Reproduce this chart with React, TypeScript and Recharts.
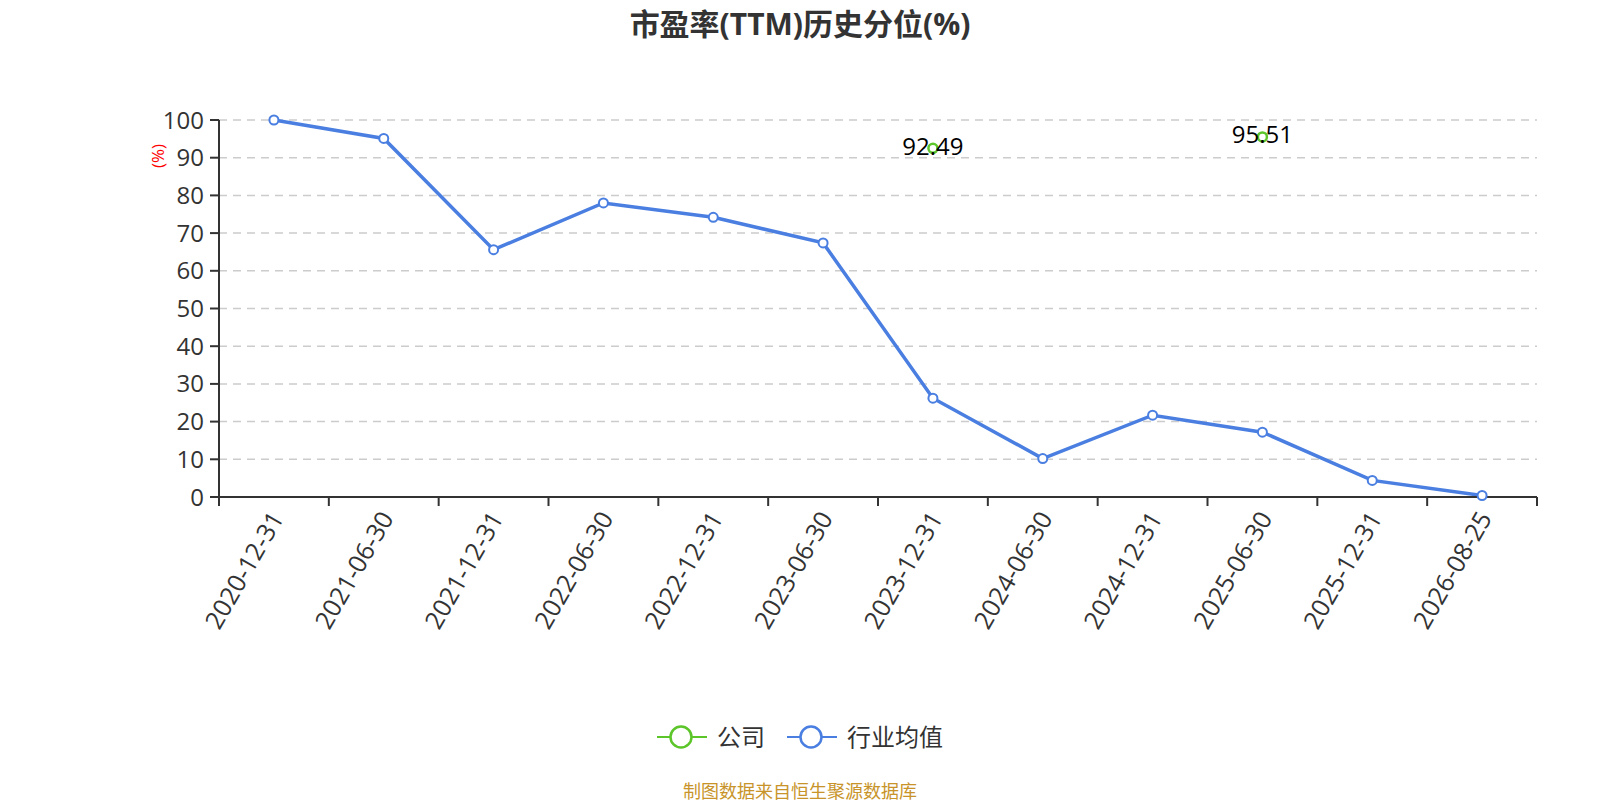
import React from 'react';
import { LineChart, Line, XAxis, YAxis, CartesianGrid, LabelList } from 'recharts';

const categories = [
  '2020-12-31', '2021-06-30', '2021-12-31', '2022-06-30', '2022-12-31', '2023-06-30',
  '2023-12-31', '2024-06-30', '2024-12-31', '2025-06-30', '2025-12-31', '2026-08-25',
];
const industryValues = [100, 95.1, 65.6, 78.0, 74.2, 67.4, 26.2, 10.2, 21.7, 17.2, 4.4, 0.4];
const companyValues: (number | null)[] = [null, null, null, null, null, null, 92.49, null, null, 95.51, null, null];
const yTicks = [0, 10, 20, 30, 40, 50, 60, 70, 80, 90, 100];

const data = categories.map((date, i) => ({
  date,
  industry: industryValues[i],
  company: companyValues[i],
}));

const W = 1600;
const H = 800;
const PLOT_LEFT = 219;
const PLOT_RIGHT = 1537;
const PLOT_TOP = 120;
const PLOT_BOTTOM = 497;
const Y_AXIS_W = 60;
const X_AXIS_H = 150;
const BAND = (PLOT_RIGHT - PLOT_LEFT) / categories.length;

const BLUE = '#4a7fe1';
const GREEN = '#5cc52a';
const FONT = '"Open Sans", "Noto Sans CJK SC", sans-serif';

function XTick(props: any) {
  const { x, y, payload, index } = props;
  const last = index === categories.length - 1;
  return (
    <g>
      <line x1={x - BAND / 2} y1={y} x2={x - BAND / 2} y2={y + 9} stroke="#333" strokeWidth={2} />
      {last && <line x1={x + BAND / 2} y1={y} x2={x + BAND / 2} y2={y + 9} stroke="#333" strokeWidth={2} />}
      <text
        x={x + 2}
        y={y + 16}
        textAnchor="end"
        dominantBaseline="central"
        transform={`rotate(-60, ${x + 2}, ${y + 16})`}
        fontSize={25}
        fill="#333"
        fontFamily={FONT}
      >
        {payload.value}
      </text>
    </g>
  );
}

function CompanyLabel(props: any) {
  const { x, y, value } = props;
  if (value == null || x == null || y == null) return null;
  return (
    <text x={x} y={y - 3} textAnchor="middle" dominantBaseline="central" fontSize={24} fill="#000" fontFamily={FONT}>
      {value}
    </text>
  );
}

function LegendItem({ color, label }: { color: string; label: string }) {
  return (
    <div style={{ display: 'flex', alignItems: 'center', marginRight: 22 }}>
      <svg width={50} height={30}>
        <line x1={0} y1={15} x2={50} y2={15} stroke={color} strokeWidth={2} />
        <circle cx={24} cy={15} r={10.5} fill="#fff" stroke={color} strokeWidth={2.5} />
      </svg>
      <span style={{ marginLeft: 10, fontSize: 24, lineHeight: '30px', color: '#333' }}>{label}</span>
    </div>
  );
}

export default function App() {
  return (
    <div style={{ position: 'absolute', left: 0, top: 0, width: W, height: H, background: '#fff', fontFamily: FONT }}>
      <div style={{ position: 'absolute', top: 0, left: 0, width: W, textAlign: 'center', fontSize: 30, fontWeight: 'bold', color: '#333' }}>
        市盈率(TTM)历史分位(%)
      </div>
      <LineChart
        width={W}
        height={H}
        data={data}
        margin={{ top: PLOT_TOP, left: PLOT_LEFT - Y_AXIS_W, right: W - PLOT_RIGHT, bottom: H - PLOT_BOTTOM - X_AXIS_H }}
      >
        <CartesianGrid vertical={false} stroke="#ccc" strokeDasharray="8 6" strokeWidth={1.5} />
        <XAxis
          dataKey="date"
          interval={0}
          height={X_AXIS_H}
          padding={{ left: BAND / 2, right: BAND / 2 }}
          tickSize={0}
          tickMargin={0}
          tickLine={false}
          axisLine={{ stroke: '#333', strokeWidth: 2 }}
          tick={<XTick />}
        />
        <YAxis
          width={Y_AXIS_W}
          domain={[0, 100]}
          ticks={yTicks}
          interval={0}
          tickSize={9}
          tickMargin={6}
          axisLine={{ stroke: '#333', strokeWidth: 2 }}
          tickLine={{ stroke: '#333', strokeWidth: 2 }}
          tick={{ fill: '#333', fontSize: 24, fontFamily: FONT }}
          label={{
            content: (p: any) => {
              const vb = p.viewBox || { x: PLOT_LEFT - Y_AXIS_W, y: PLOT_TOP };
              const cx = vb.x - 2;
              const cy = vb.y + 36;
              return (
                <text x={cx} y={cy} transform={`rotate(-90, ${cx}, ${cy})`} textAnchor="middle" dominantBaseline="central" fill="#ff0000" fontSize={17} fontFamily={FONT}>
                  (%)
                </text>
              );
            },
          }}
        />
        <Line
          dataKey="industry"
          stroke={BLUE}
          strokeWidth={3.5}
          dot={{ r: 4.5, fill: '#fff', stroke: BLUE, strokeWidth: 2 }}
          isAnimationActive={false}
        />
        <Line
          dataKey="company"
          stroke={GREEN}
          strokeWidth={2}
          dot={{ r: 4.5, fill: '#fff', stroke: GREEN, strokeWidth: 2.5 }}
          isAnimationActive={false}
        >
          <LabelList dataKey="company" content={<CompanyLabel />} />
        </Line>
      </LineChart>
      <div style={{ position: 'absolute', top: 722, left: 11, width: W, display: 'flex', justifyContent: 'center' }}>
        <LegendItem color={GREEN} label="公司" />
        <LegendItem color={BLUE} label="行业均值" />
      </div>
      <div style={{ position: 'absolute', top: 777, left: 0, width: W, textAlign: 'center', fontSize: 18, color: '#c8942a' }}>
        制图数据来自恒生聚源数据库
      </div>
    </div>
  );
}
